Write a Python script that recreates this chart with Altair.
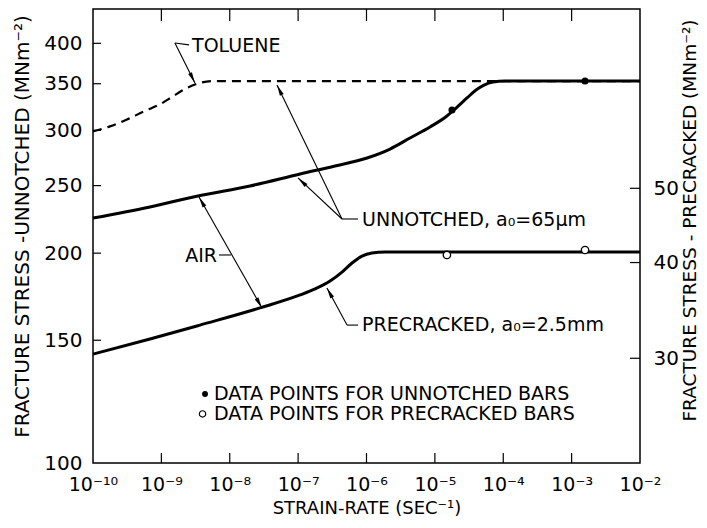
import math
import altair as alt
import pandas as pd

W, H = 547, 454
FONT = "DejaVu Sans"

# ---------------- axis ticks ----------------
x_ticks = [1e-10, 1e-9, 1e-8, 1e-7, 1e-6, 1e-5, 1e-4, 1e-3, 1e-2]
x_tick_labels = ["10⁻¹⁰", "10⁻⁹", "10⁻⁸", "10⁻⁷", "10⁻⁶", "10⁻⁵", "10⁻⁴", "10⁻³", "10⁻²"]
y_left_ticks = [100, 150, 200, 250, 300, 350, 400]
y_right_ticks = [30, 40, 50]

# ---------------- curves (strain-rate, stress on left scale) ----------------
toluene_rate = [1e-10, 1.77e-10, 3.14e-10, 5.76e-10, 9.55e-10, 1.43e-9, 2.22e-9, 3.32e-9, 5.69e-9, 1e-2]
toluene_stress = [299, 304, 311, 320, 327, 335, 344, 350, 353, 353]

unnotched_rate = [1e-10, 6.82e-10, 3.43e-9, 1.98e-8, 1.07e-7, 3.46e-7, 1.02e-6, 2.21e-6, 4.33e-6,
                  8.49e-6, 1.50e-5, 2.11e-5, 2.95e-5, 4.00e-5, 5.23e-5, 7.08e-5, 1.06e-4, 1e-2]
unnotched_stress = [224.6, 233.0, 241.6, 249.7, 259.8, 266.7, 273.9, 282.1, 292.6,
                    303.4, 314.6, 324.1, 333.9, 342.8, 348.5, 352.0, 353.2, 353.2]

precracked_rate = [1e-10, 6.82e-10, 3.67e-9, 2.77e-8, 1.07e-7, 1.77e-7, 2.93e-7, 4.38e-7,
                   6.14e-7, 8.60e-7, 1.20e-6, 1.86e-6, 1e-2]
precracked_stress = [143.3, 150.6, 157.7, 166.9, 174.2, 177.7, 182.4, 187.9,
                     193.6, 198.1, 200.1, 200.8, 200.8]

# data points
unnotched_pts_rate = [1.78e-5, 1.57e-3]
unnotched_pts_stress = [320.9, 353.2]
precracked_pts_rate = [1.50e-5, 1.57e-3]
precracked_pts_stress = [198.8, 202.1]

# ---------------- annotations ----------------
ann_labels = ["TOLUENE", "UNNOTCHED, a₀=65μm", "PRECRACKED, a₀=2.5mm"]
ann_rate = [2.81e-9, 8.60e-7, 8.60e-7]
ann_stress = [396.6, 223.1, 157.7]

air_label = ["AIR"]
air_rate = [6.51e-9]
air_stress = [198.1]

seg_x1 = [3.10e-9, 1.58e-9, 9.96e-8, 4.91e-8, 4.38e-7, 3.55e-9, 6.96e-9, 2.64e-7, 5.19e-7]
seg_y1 = [350.9, 400.5, 256.4, 348.5, 223.9, 240.8, 198.8, 178.3, 157.7]
seg_x2 = [1.58e-9, 2.54e-9, 4.38e-7, 4.38e-7, 7.51e-7, 2.96e-8, 1.04e-8, 5.19e-7, 7.51e-7]
seg_y2 = [400.5, 397.9, 223.9, 223.9, 223.9, 166.9, 198.8, 157.7, 157.7]

# arrow heads: tip and the point the shaft comes from
tip_x = [3.10e-9, 9.96e-8, 4.91e-8, 3.55e-9, 2.96e-8, 2.64e-7]
tip_y = [350.9, 256.4, 348.5, 240.8, 166.9, 178.3]
from_x = [1.58e-9, 4.38e-7, 4.38e-7, 2.96e-8, 3.55e-9, 5.19e-7]
from_y = [400.5, 223.9, 223.9, 166.9, 240.8, 157.7]

legend_labels = ["DATA POINTS FOR UNNOTCHED BARS", "DATA POINTS FOR PRECRACKED BARS"]
legend_text_rate = [5.89e-9, 5.89e-9]
legend_stress = [125.6, 117.6]
legend_marker_rate = [4.35e-9, 4.0e-9]

# ---------------- scales & axes ----------------
XD = [1e-10, 1e-2]
YD = [100, 448]
RD = [21.9, 85.7]
XS = alt.Scale(type="log", domain=XD, nice=False)
YS = alt.Scale(type="log", domain=YD, nice=False)
YR = alt.Scale(type="log", domain=RD, nice=False)

label_expr = ""
for v, lab in zip(x_ticks[:-1], x_tick_labels[:-1]):
    label_expr += f"datum.value < {v * 3:.3e} ? '{lab}' : "
label_expr += f"'{x_tick_labels[-1]}'"

common = dict(domain=False, ticks=False, grid=False, labelFont=FONT, titleFont=FONT,
              labelColor="black", titleColor="black", titleFontWeight="normal",
              labelOverlap=False)

XA = alt.Axis(values=x_ticks, labelExpr=label_expr, title="STRAIN-RATE (SEC⁻¹)",
              labelFontSize=19, titleFontSize=18, labelPadding=12, labelFlush=False,
              titleY=45, titleBaseline="middle", **common)
YA = alt.Axis(values=y_left_ticks, format="d", title="FRACTURE STRESS -UNNOTCHED (MNm⁻²)",
              labelFontSize=20, titleFontSize=20, labelPadding=11,
              titleX=-71, titleY=217, titleAngle=270, titleAlign="center",
              titleBaseline="middle", **common)
RA = alt.Axis(orient="right", values=y_right_ticks, format="d",
              title="FRACTURE STRESS - PRECRACKED (MNm⁻²)",
              labelFontSize=20, titleFontSize=18.5, labelPadding=13,
              titleX=49, titleY=211, titleAngle=270, titleAlign="center",
              titleBaseline="middle", **common)


def X(f):
    return alt.X(f"{f}:Q", scale=XS, axis=XA)


def Y(f):
    return alt.Y(f"{f}:Q", scale=YS, axis=YA)


def px(x):
    return W * (math.log10(x) - math.log10(XD[0])) / (math.log10(XD[1]) - math.log10(XD[0]))


def py(y):
    return H * (1 - (math.log10(y) - math.log10(YD[0])) / (math.log10(YD[1]) - math.log10(YD[0])))


angles = []
for tx, ty, fx, fy in zip(tip_x, tip_y, from_x, from_y):
    dx = px(tx) - px(fx)
    dy = py(ty) - py(fy)
    angles.append(math.degrees(math.atan2(dx, -dy)) % 360)

ARROW = "M0,0L-0.38,2L0.38,2Z"

# ---------------- layers ----------------
toluene = alt.Chart(pd.DataFrame({"rate": toluene_rate, "stress": toluene_stress})).mark_line(
    color="black", strokeWidth=2.2, strokeDash=[9, 6], interpolate="monotone"
).encode(x=X("rate"), y=Y("stress"))

unnotched = alt.Chart(pd.DataFrame({"rate": unnotched_rate, "stress": unnotched_stress})).mark_line(
    color="black", strokeWidth=3, interpolate="monotone"
).encode(x=X("rate"), y=Y("stress"))

precracked = alt.Chart(pd.DataFrame({"rate": precracked_rate, "stress": precracked_stress})).mark_line(
    color="black", strokeWidth=3, interpolate="monotone"
).encode(x=X("rate"), y=Y("stress"))

upts = alt.Chart(pd.DataFrame({"rate": unnotched_pts_rate, "stress": unnotched_pts_stress})).mark_point(
    shape="circle", filled=True, color="black", size=50, opacity=1
).encode(x=X("rate"), y=Y("stress"))

ppts = alt.Chart(pd.DataFrame({"rate": precracked_pts_rate, "stress": precracked_pts_stress})).mark_point(
    shape="circle", filled=True, fill="white", stroke="black", strokeWidth=1.3, size=55, opacity=1
).encode(x=X("rate"), y=Y("stress"))

segs = alt.Chart(pd.DataFrame({"x1": seg_x1, "y1": seg_y1, "x2": seg_x2, "y2": seg_y2})).mark_rule(
    color="black", strokeWidth=1.1
).encode(x=X("x1"), x2="x2:Q", y=Y("y1"), y2="y2:Q")

heads = alt.Chart(pd.DataFrame({"x": tip_x, "y": tip_y, "ang": angles})).mark_point(
    shape=ARROW, filled=True, color="black", size=121, opacity=1, strokeWidth=0
).encode(x=X("x"), y=Y("y"), angle=alt.Angle("ang:Q", scale=None))

ann = alt.Chart(pd.DataFrame({"rate": ann_rate, "stress": ann_stress, "label": ann_labels})).mark_text(
    align="left", baseline="middle", font=FONT, fontSize=19, color="black"
).encode(x=X("rate"), y=Y("stress"), text="label:N")

air = alt.Chart(pd.DataFrame({"rate": air_rate, "stress": air_stress, "label": air_label})).mark_text(
    align="right", baseline="middle", font=FONT, fontSize=19, color="black"
).encode(x=X("rate"), y=Y("stress"), text="label:N")

leg_text = alt.Chart(pd.DataFrame({"rate": legend_text_rate, "stress": legend_stress,
                                   "label": legend_labels})).mark_text(
    align="left", baseline="middle", font=FONT, fontSize=19, color="black"
).encode(x=X("rate"), y=Y("stress"), text="label:N")

leg_fill = alt.Chart(pd.DataFrame({"rate": legend_marker_rate[:1], "stress": legend_stress[:1]})).mark_point(
    shape="circle", filled=True, color="black", size=35, opacity=1
).encode(x=X("rate"), y=Y("stress"))

leg_open = alt.Chart(pd.DataFrame({"rate": legend_marker_rate[1:], "stress": legend_stress[1:]})).mark_point(
    shape="circle", filled=True, fill="white", stroke="black", strokeWidth=1.2, size=40, opacity=1
).encode(x=X("rate"), y=Y("stress"))

# inward ticks
left_ticks = alt.Chart(pd.DataFrame({"v": y_left_ticks[1:]})).mark_rule(color="black", strokeWidth=1.2).encode(
    y=Y("v"), x=alt.value(0), x2=alt.value(8))
bottom_ticks = alt.Chart(pd.DataFrame({"v": x_ticks[1:-1]})).mark_rule(color="black", strokeWidth=1.2).encode(
    x=X("v"), y=alt.value(H), y2=alt.value(H - 10))
top_ticks = alt.Chart(pd.DataFrame({"v": x_ticks[1:-1]})).mark_rule(color="black", strokeWidth=1.2).encode(
    x=X("v"), y=alt.value(0), y2=alt.value(12))

left = alt.layer(toluene, unnotched, precracked, segs, heads, upts, ppts, ann, air,
                 leg_text, leg_fill, leg_open, left_ticks, bottom_ticks, top_ticks)

right_ticks = alt.Chart(pd.DataFrame({"v": y_right_ticks})).mark_rule(color="black", strokeWidth=1.2).encode(
    y=alt.Y("v:Q", scale=YR, axis=RA), x=alt.value(W), x2=alt.value(W - 10))

chart = alt.layer(left, right_ticks).resolve_scale(y="independent").properties(
    width=W, height=H,
    autosize=alt.AutoSizeParams(type="none"),
    padding={"left": 85, "top": 1, "right": 59, "bottom": 57},
    background="white",
).configure_view(stroke="black", strokeWidth=1.5)

chart.save("out.html", embed_options={"renderer": "svg", "actions": False})
